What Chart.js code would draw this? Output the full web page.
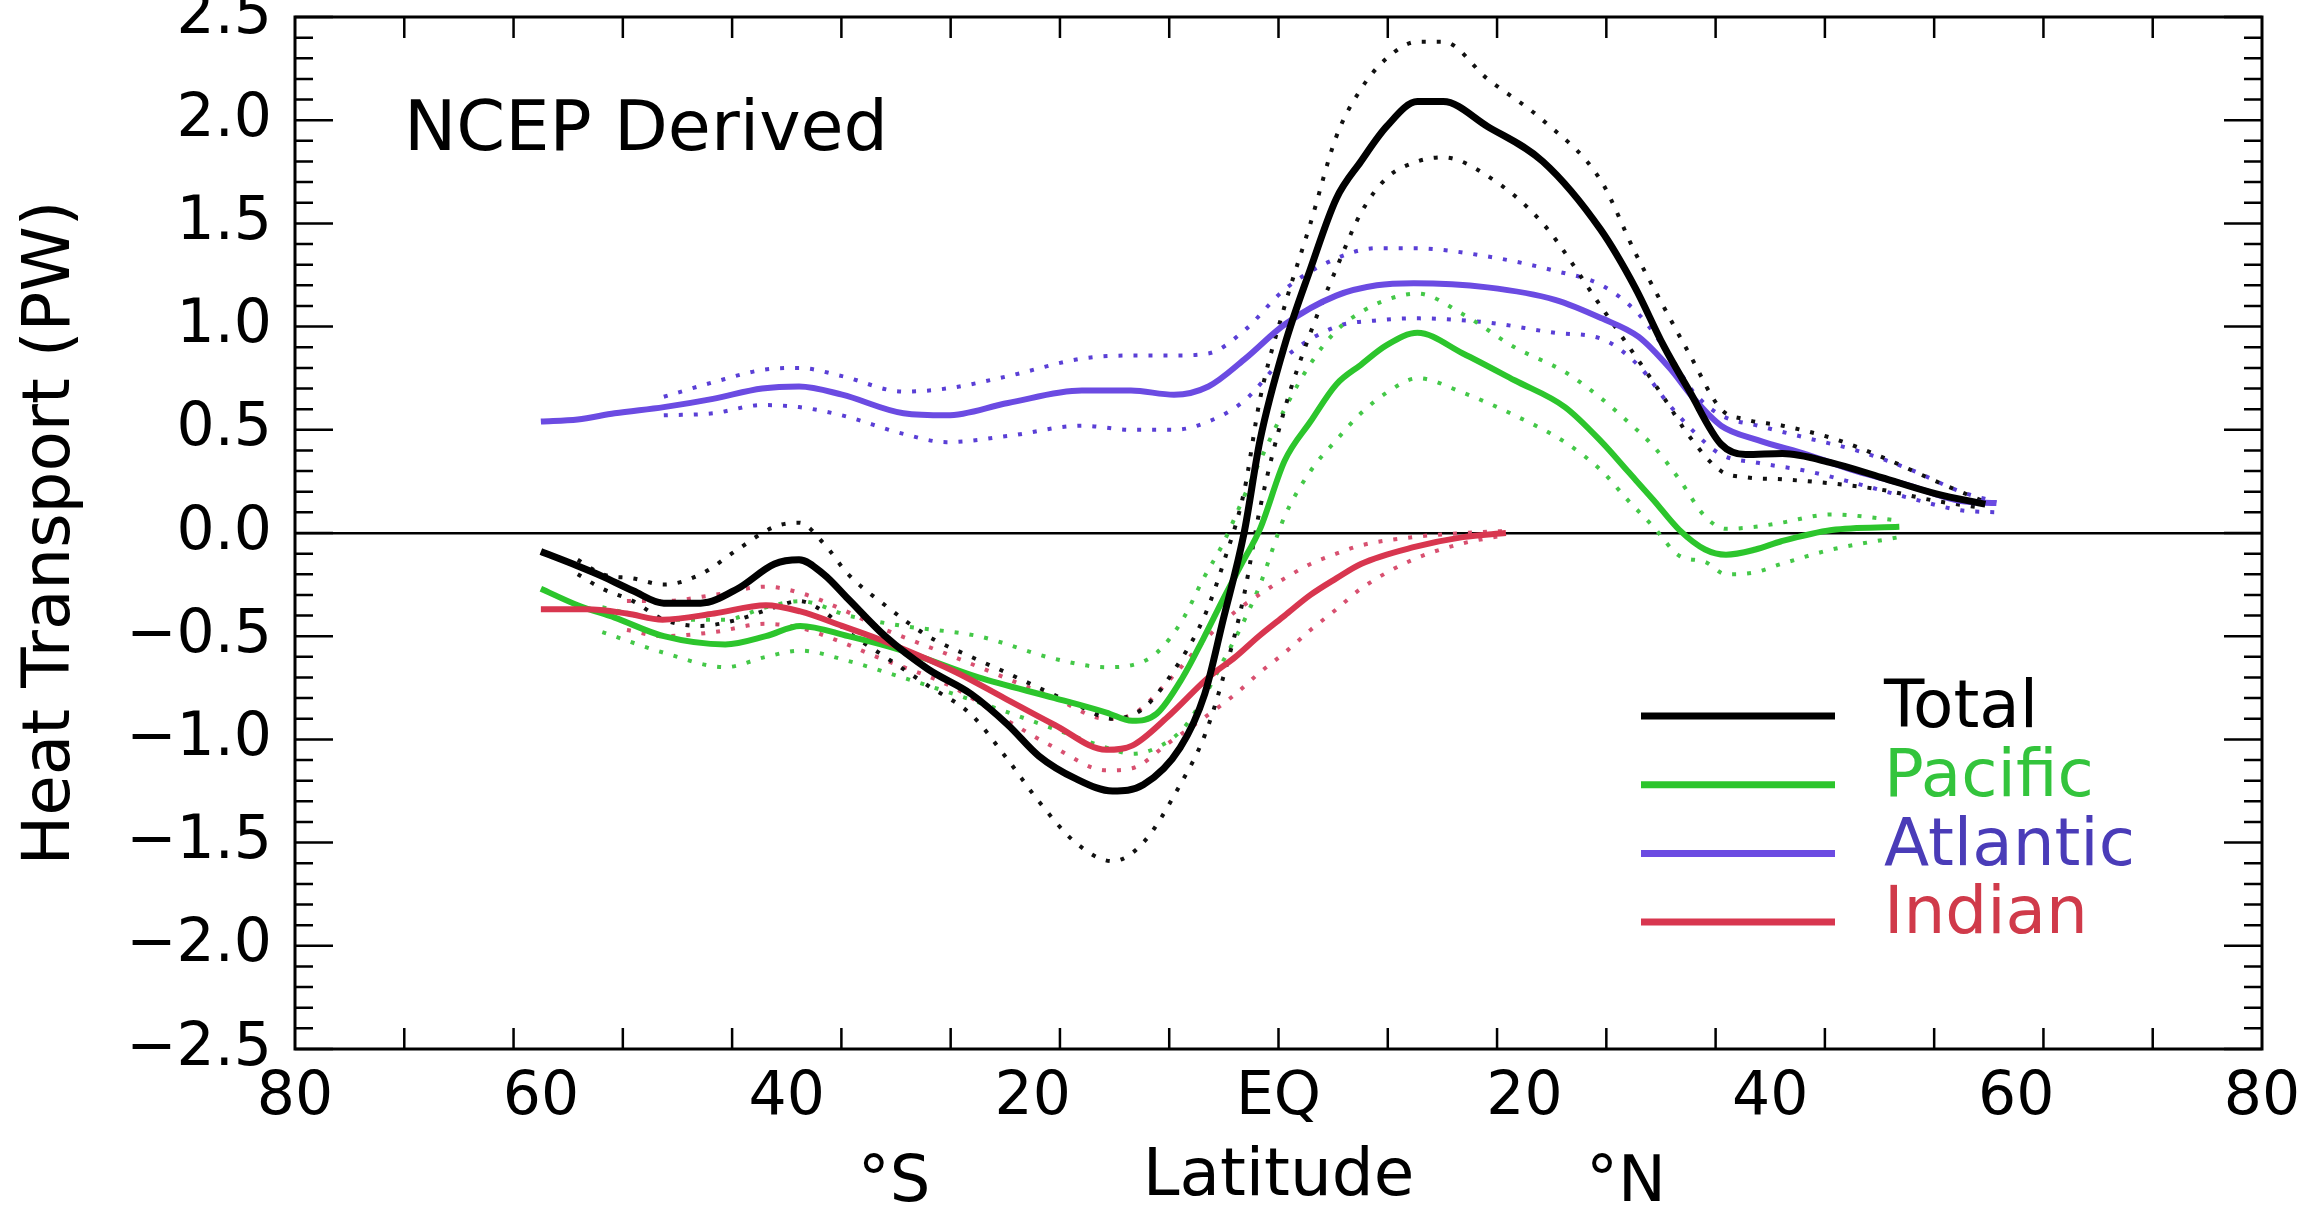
<!DOCTYPE html>
<html><head><meta charset="utf-8">
<script src="https://cdn.jsdelivr.net/npm/chart.js@4.4.1/dist/chart.umd.min.js"></script>
<style>html,body{margin:0;padding:0;background:#fff;overflow:hidden}canvas{display:block}</style>
</head><body>
<canvas id="c" width="2301" height="1211"></canvas>
<script>
// ---- data (latitude in degrees, negative = south; values in PW) ----
const xTickLabels = ['80','60','40','20','EQ','20','40','60','80'];
const seriesNames = ['Total','Pacific','Atlantic','Indian'];

const T_LAT = [-60,-57,-55,-52.5,-50,-47,-44,-41,-39,-37,-35,-32,-28.5,-25,-22,-19.5,-16.5,-13.5,-11,-8,-6,-4.5,-2.8,-1.5,0.5,2.6,4.7,6.7,8.8,11.3,13.4,17,21.5,26.2,29,31.3,33.4,36,38,41,45,49,53.5,57.5];
const T_VAL = [-0.09,-0.16,-0.21,-0.28,-0.34,-0.34,-0.27,-0.15,-0.13,-0.2,-0.32,-0.5,-0.66,-0.78,-0.93,-1.08,-1.19,-1.25,-1.22,-1.04,-0.78,-0.42,0.0,0.45,0.91,1.28,1.62,1.80,1.97,2.09,2.09,1.97,1.80,1.47,1.19,0.91,0.69,0.43,0.38,0.385,0.34,0.27,0.19,0.14];
const T_BLAT = [-57,-55,-52.5,-50,-47,-44,-41,-39,-37,-35,-32,-28.5,-25,-22,-19.5,-16.5,-13.5,-11,-8,-6,-4.5,-2.8,-1.5,0.5,2.6,4.7,6.7,8.8,11.3,13.4,17,21.5,26.2,29,31.3,33.4,36,38,41,45,49,53.5,57.5];
const T_HI = [-0.13,-0.2,-0.22,-0.25,-0.2,-0.08,0.03,0.05,-0.05,-0.2,-0.35,-0.5,-0.6,-0.68,-0.75,-0.83,-0.9,-0.85,-0.62,-0.4,-0.15,0.2,0.65,1.1,1.5,1.92,2.15,2.3,2.38,2.38,2.2,2.0,1.71,1.36,1.1,0.87,0.6,0.55,0.52,0.46,0.37,0.25,0.15];
const T_LO = [-0.2,-0.27,-0.33,-0.42,-0.45,-0.42,-0.36,-0.33,-0.38,-0.48,-0.6,-0.74,-0.88,-1.1,-1.3,-1.5,-1.59,-1.5,-1.22,-0.98,-0.7,-0.3,0.12,0.6,0.97,1.28,1.55,1.72,1.8,1.82,1.73,1.5,1.1,0.86,0.66,0.47,0.3,0.27,0.26,0.24,0.21,0.155,0.12];

const A_LAT = [-60,-57,-54,-50,-46,-42,-39,-35.5,-30.5,-27,-22,-16,-12,-8.5,-5.7,-2.8,0.5,4.7,8,11,17,22.5,26.3,29.3,31.8,33.8,36,39,43,47,51.3,55.5,58.4];
const A_VAL = [0.54,0.55,0.58,0.61,0.65,0.70,0.71,0.67,0.58,0.57,0.63,0.69,0.69,0.67,0.71,0.84,1.01,1.15,1.20,1.21,1.19,1.13,1.04,0.95,0.80,0.65,0.52,0.45,0.38,0.30,0.23,0.155,0.145];
const A_BLAT = [-50,-46,-42,-39,-35.5,-30.5,-27,-22,-16,-12,-8.5,-5.7,-2.8,0.5,4.7,8,11,17,22.5,26.3,29.3,31.8,33.8,36,39,43,47,51.3,55.5,58.4];
const A_HI = [0.66,0.73,0.79,0.80,0.76,0.685,0.70,0.76,0.845,0.86,0.86,0.87,0.98,1.18,1.33,1.38,1.38,1.34,1.27,1.20,1.06,0.86,0.68,0.57,0.52,0.46,0.40,0.31,0.2,0.15];
const A_LO = [0.57,0.58,0.62,0.61,0.57,0.48,0.44,0.47,0.52,0.50,0.50,0.54,0.64,0.85,1.0,1.03,1.04,1.02,0.97,0.94,0.81,0.62,0.49,0.38,0.34,0.30,0.24,0.17,0.11,0.1];

const P_LAT = [-60,-57,-54,-50,-45,-41.7,-38.9,-35,-30.6,-24.4,-18.2,-14,-11.9,-9.9,-7.8,-6.1,-4.5,-3,-1.5,0.5,2.6,4.7,6.7,8.8,11.3,15,19.2,23.3,26.3,28.4,30.5,32.6,34.7,36.4,38.8,40.9,45,50.5];
const P_VAL = [-0.27,-0.35,-0.41,-0.50,-0.54,-0.50,-0.45,-0.5,-0.57,-0.70,-0.80,-0.87,-0.91,-0.875,-0.70,-0.51,-0.32,-0.15,0.02,0.35,0.54,0.72,0.815,0.91,0.97,0.87,0.74,0.61,0.44,0.30,0.16,0.015,-0.08,-0.105,-0.08,-0.04,0.015,0.03];
const P_BLAT = [-55,-50,-45,-41.7,-38.9,-35,-30.6,-24.4,-18.2,-14,-11.9,-9.9,-7.8,-6.1,-4.5,-3,-1.5,0.5,2.6,4.7,6.7,8.8,11.3,15,19.2,23.3,26.3,28.4,30.5,32.6,34.7,36.4,38.8,40.9,45,50.5];
const P_HI = [-0.36,-0.42,-0.42,-0.36,-0.33,-0.4,-0.45,-0.5,-0.61,-0.65,-0.64,-0.58,-0.42,-0.22,-0.05,0.15,0.35,0.6,0.82,0.98,1.07,1.13,1.16,1.06,0.9,0.78,0.65,0.54,0.42,0.26,0.08,0.02,0.03,0.05,0.09,0.06];
const P_LO = [-0.48,-0.58,-0.65,-0.6,-0.57,-0.62,-0.7,-0.82,-0.95,-1.04,-1.07,-1.04,-0.95,-0.8,-0.62,-0.45,-0.25,0.08,0.3,0.45,0.58,0.68,0.75,0.68,0.57,0.44,0.30,0.16,0.03,-0.11,-0.14,-0.2,-0.19,-0.15,-0.08,-0.02];

const I_LAT = [-60,-56.3,-53,-50.1,-45.9,-41.7,-38.9,-35.5,-32.7,-26.4,-22.3,-18.2,-14,-11.9,-9,-5.7,-3.5,-1.6,0.5,2.6,4.7,6.7,10.9,15,18.5];
const I_VAL = [-0.37,-0.37,-0.39,-0.42,-0.39,-0.35,-0.38,-0.45,-0.51,-0.67,-0.80,-0.93,-1.05,-1.03,-0.89,-0.70,-0.6,-0.5,-0.4,-0.3,-0.22,-0.15,-0.07,-0.02,0.0];
const I_BLAT = [-53,-50.1,-45.9,-41.7,-38.9,-35.5,-32.7,-26.4,-22.3,-18.2,-14,-11.9,-9,-5.7,-3.5,-1.6,0.5,2.6,4.7,6.7,10.9,15,18.5];
const I_HI = [-0.33,-0.33,-0.3,-0.26,-0.29,-0.37,-0.45,-0.6,-0.7,-0.8,-0.9,-0.88,-0.72,-0.5,-0.38,-0.3,-0.22,-0.15,-0.1,-0.06,-0.02,0.0,0.01];
const I_LO = [-0.47,-0.5,-0.48,-0.44,-0.46,-0.53,-0.6,-0.75,-0.9,-1.04,-1.15,-1.14,-1.02,-0.88,-0.78,-0.68,-0.58,-0.47,-0.37,-0.27,-0.13,-0.05,-0.01];

// ---- styling ----
const FONT = "'DejaVu Sans', 'Liberation Sans', sans-serif";
const COL = {Total:'#000000', Pacific:'#2cc52c', Atlantic:'#6b4be2', Indian:'#d8364f'};
const DOT = {Total:'#111111', Pacific:'#44c848', Atlantic:'#5a3fd6', Indian:'#d85070'};
const TXT = {Total:'#000000', Pacific:'#33c43c', Atlantic:'#4a3cb8', Indian:'#d03a4a'};

const pts = (lat, val) => lat.map((x, i) => ({x: x, y: val[i]}));
const solid = (name, lat, val, w) => ({label: name, legendItem: true, data: pts(lat, val),
  borderColor: COL[name], borderWidth: w, pointRadius: 0, fill: false, cubicInterpolationMode: 'monotone'});
const dotted = (name, lat, val) => ({label: name + ' bound', data: pts(lat, val),
  borderColor: DOT[name], borderWidth: 4, borderDash: [4, 11], pointRadius: 0, fill: false,
  cubicInterpolationMode: 'monotone'});

const datasets = [
  solid('Total', T_LAT, T_VAL, 7),
  solid('Indian', I_LAT, I_VAL, 6),
  solid('Pacific', P_LAT, P_VAL, 6),
  solid('Atlantic', A_LAT, A_VAL, 6),
  dotted('Total', T_BLAT, T_HI), dotted('Total', T_BLAT, T_LO),
  dotted('Indian', I_BLAT, I_HI), dotted('Indian', I_BLAT, I_LO),
  dotted('Pacific', P_BLAT, P_HI), dotted('Pacific', P_BLAT, P_LO),
  dotted('Atlantic', A_BLAT, A_HI), dotted('Atlantic', A_BLAT, A_LO)
];

// frame, inward tick marks, annotations and legend
const decor = {
  id: 'decor',
  afterDraw(chart) {
    const {ctx, chartArea: a, scales: {x, y}} = chart;
    ctx.save();
    ctx.strokeStyle = '#000';
    ctx.lineWidth = 3;
    ctx.strokeRect(a.left, a.top, a.right - a.left, a.bottom - a.top);
    ctx.lineWidth = 2.5;
    ctx.beginPath();
    for (let k = -25; k <= 25; k++) {
      const py = y.getPixelForValue(k / 10);
      const len = (k % 5 === 0) ? 38 : 18;
      ctx.moveTo(a.left, py); ctx.lineTo(a.left + len, py);
      ctx.moveTo(a.right, py); ctx.lineTo(a.right - len, py);
    }
    for (let k = 1; k < 18; k++) {
      const px = x.getPixelForValue(-80 + k * 160 / 18);
      ctx.moveTo(px, a.bottom); ctx.lineTo(px, a.bottom - 21);
      ctx.moveTo(px, a.top); ctx.lineTo(px, a.top + 21);
    }
    ctx.stroke();

    ctx.fillStyle = '#000';
    ctx.font = '70px ' + FONT;
    ctx.textAlign = 'left';
    ctx.textBaseline = 'alphabetic';
    ctx.fillText('NCEP Derived', 404, 150);

    ctx.font = '64px ' + FONT;
    ctx.textAlign = 'center';
    ctx.textBaseline = 'middle';
    ctx.fillText('\u00B0S', 894, 1184);
    ctx.fillText('\u00B0N', 1626, 1184);

    // legend
    const items = chart.data.datasets.filter(d => d.legendItem);
    const order = seriesNames.map(n => items.find(d => d.label === n));
    order.forEach((d, i) => {
      const ly = 716 + i * 68.7;
      ctx.strokeStyle = d.borderColor;
      ctx.lineWidth = 7;
      ctx.beginPath(); ctx.moveTo(1641, ly); ctx.lineTo(1835, ly); ctx.stroke();
      ctx.fillStyle = TXT[d.label];
      ctx.font = '66px ' + FONT;
      ctx.textAlign = 'left';
      ctx.textBaseline = 'middle';
      ctx.fillText(d.label, 1884, ly - 6);
    });
    ctx.restore();
  }
};

new Chart(document.getElementById('c'), {
  type: 'line',
  data: {datasets: datasets},
  plugins: [decor],
  options: {
    responsive: false,
    animation: false,
    devicePixelRatio: 1,
    layout: {padding: {left: 0, right: 39, top: 17, bottom: 0}},
    plugins: {legend: {display: false}, tooltip: {enabled: false}},
    scales: {
      x: {
        type: 'linear', min: -80, max: 80,
        grid: {display: false},
        border: {display: false},
        ticks: {stepSize: 20, autoSkip: false, maxRotation: 0, padding: 5, color: '#000',
          font: {family: FONT, size: 60},
          callback: v => xTickLabels[Math.round((v + 80) / 20)]},
        title: {display: true, text: 'Latitude', color: '#000', padding: {top: 0, bottom: 0},
          font: {family: FONT, size: 66, lineHeight: 1}},
        afterFit: s => { s.height = 162; s.paddingLeft = 0; s.paddingRight = 0; }
      },
      y: {
        type: 'linear', min: -2.5, max: 2.5,
        grid: {drawTicks: false, lineWidth: 2.5,
          color: c => (c.tick && Math.abs(c.tick.value) < 1e-9) ? '#000' : 'rgba(0,0,0,0)'},
        border: {display: false},
        ticks: {stepSize: 0.5, padding: 23, color: '#000', font: {family: FONT, size: 60},
          callback: v => (v < 0 ? '\u2212' : '') + Math.abs(v).toFixed(1)},
        title: {display: true, text: 'Heat Transport (PW)', color: '#000', padding: {top: 19, bottom: 0},
          font: {family: FONT, size: 66, lineHeight: 1}},
        afterFit: s => { s.width = 295; s.paddingTop = 0; s.paddingBottom = 0; }
      }
    }
  }
});
</script>
</body></html>
